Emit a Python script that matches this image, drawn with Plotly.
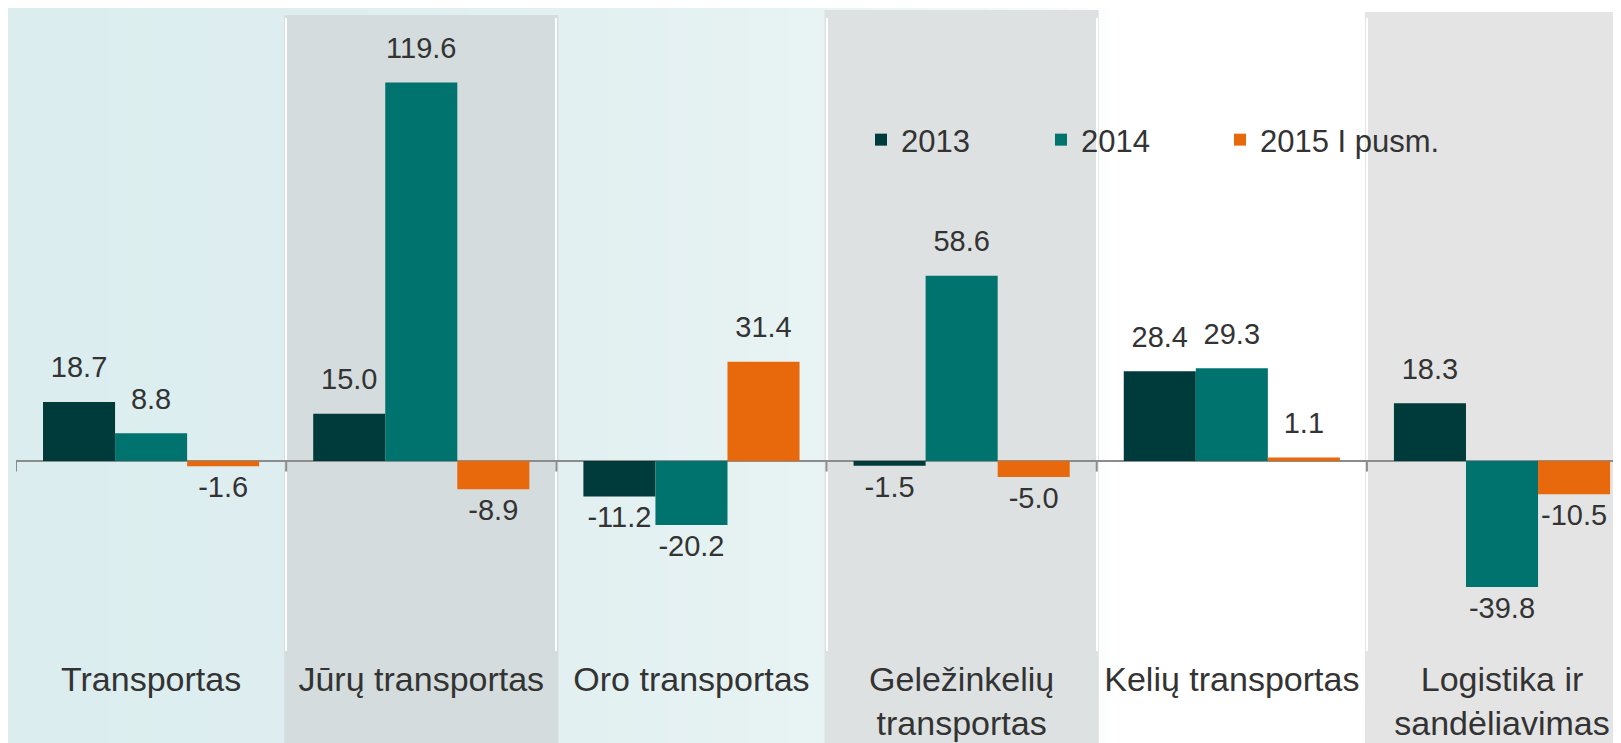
import plotly.graph_objects as go

categories = ["Transportas", "Jūrų transportas", "Oro transportas",
              "Geležinkelių<br>transportas", "Kelių transportas",
              "Logistika ir<br>sandėliavimas"]
series_names = ["2013", "2014", "2015 I pusm."]
v2013 = [18.7, 15.0, -11.2, -1.5, 28.4, 18.3]
v2014 = [8.8, 119.6, -20.2, 58.6, 29.3, -39.8]
v2015 = [-1.6, -8.9, 31.4, -5.0, 1.1, -10.5]

colors = ["#003b3b", "#00736f", "#e8690c"]
legend_ids = ["legend", "legend", "legend2"]
FONT = "Liberation Sans, Arial, sans-serif"
TXT = "#333333"

W, H = 1621, 743
ML, MR, MT, MB = 8, 0, 10, 100
XR = [-0.5, 5.47]
YR = [-60, 140]
pw = W - ML - MR
ph = H - MT - MB

fig = go.Figure()
for name, vals, col, lg in zip(series_names, [v2013, v2014, v2015], colors, legend_ids):
    fig.add_trace(go.Bar(
        x=categories, y=vals, name=name, legend=lg,
        marker=dict(color=col, line=dict(width=0)),
        hovertemplate="%{x}: %{y:.1f}<extra>" + name + "</extra>",
    ))

# value labels: invisible markers (size sets the label's gap from the bar end)
for name, vals in zip(series_names, [v2013, v2014, v2015]):
    fig.add_trace(go.Scatter(
        x=categories, y=vals, mode="markers+text", showlegend=False,
        text=["%.1f" % v for v in vals],
        textposition=["top center" if v >= 0 else "bottom center" for v in vals],
        textfont=dict(family=FONT, size=29, color=TXT),
        marker=dict(size=[26 if v >= 0 else 13 for v in vals],
                    color="rgba(0,0,0,0)", line=dict(width=0)),
        hoverinfo="skip", cliponaxis=False,
    ))

shapes = []
# background gradient (horizontal strips, paper coords)
stops = [(0, (219, 237, 239)), (550, (226, 240, 241)), (800, (232, 243, 243)),
         (1000, (242, 247, 247)), (1090, (252, 253, 253)), (1110, (255, 255, 255)),
         (1621, (255, 255, 255))]

def col_at(px):
    for (a, ca), (b, cb) in zip(stops[:-1], stops[1:]):
        if a <= px <= b:
            t = (px - a) / (b - a) if b > a else 0
            return tuple(round(ca[k] + (cb[k] - ca[k]) * t) for k in range(3))
    return stops[-1][1]

step = 20
for px in range(0, 1140, step):
    c = col_at(px + step / 2)
    shapes.append(dict(type="rect", xref="paper", yref="paper", layer="below",
                       x0=(px - ML) / pw, x1=(px + step + 1 - ML) / pw,
                       y0=-MB / ph - 0.01, y1=1 + MT / ph + 0.01,
                       fillcolor="rgb(%d,%d,%d)" % c, line=dict(width=0)))

# grey bands behind alternating categories
band_cols = {1: "#d4dcdd", 3: "#dde1e2", 5: "#e4e4e4"}
band_top = {1: 7, 3: 2, 5: 4}
cat_w = pw / (XR[1] - XR[0])
for i, bc in band_cols.items():
    xl = ML + (i - 0.5 - XR[0]) * cat_w - 2
    xr = ML + (i + 0.5 - XR[0]) * cat_w + 2
    shapes.append(dict(type="rect", xref="paper", yref="paper", layer="below",
                       x0=(xl - ML) / pw, x1=min((xr - ML) / pw, 1.0),
                       y0=-MB / ph - 0.01, y1=1 + (MT - band_top[i]) / ph,
                       fillcolor=bc, line=dict(width=0)))

# small tick marks at category boundaries on the zero line
for i in range(len(categories)):
    shapes.append(dict(type="line", xref="x", yref="y", layer="above",
                       x0=i - 0.5, x1=i - 0.5, y0=0, y1=-3.3,
                       line=dict(color="#8c8c8c", width=2)))

leg_y = 1 - (132 - MT) / ph
fig.update_layout(
    width=W, height=H,
    margin=dict(l=ML, r=MR, t=MT, b=MB, pad=0, autoexpand=False),
    paper_bgcolor="#ffffff",
    plot_bgcolor="rgba(0,0,0,0)",
    barmode="group", bargap=0.2, bargroupgap=0,
    scattermode="group", scattergap=0.2,
    font=dict(family=FONT, color=TXT),
    shapes=shapes,
    showlegend=True,
    legend=dict(orientation="h", x=(853 - ML) / pw, y=leg_y,
                xanchor="left", yanchor="middle",
                font=dict(family=FONT, size=31, color=TXT),
                bgcolor="rgba(0,0,0,0)", entrywidth=135, traceorder="normal"),
    legend2=dict(orientation="h", x=(1212 - ML) / pw, y=leg_y,
                 xanchor="left", yanchor="middle",
                 font=dict(family=FONT, size=31, color=TXT),
                 bgcolor="rgba(0,0,0,0)"),
    xaxis=dict(type="category", range=XR, tickson="boundaries",
               showgrid=True, gridcolor="#ffffff", gridwidth=2,
               ticks="", showline=False, zeroline=False, tickangle=0,
               tickfont=dict(family=FONT, size=34, color=TXT),
               ticklabelstandoff=5),
    yaxis=dict(range=YR, showgrid=False, showticklabels=False, ticks="",
               zeroline=True, zerolinecolor="#8c8c8c", zerolinewidth=2,
               showline=False),
)

fig.write_html("out.html")
